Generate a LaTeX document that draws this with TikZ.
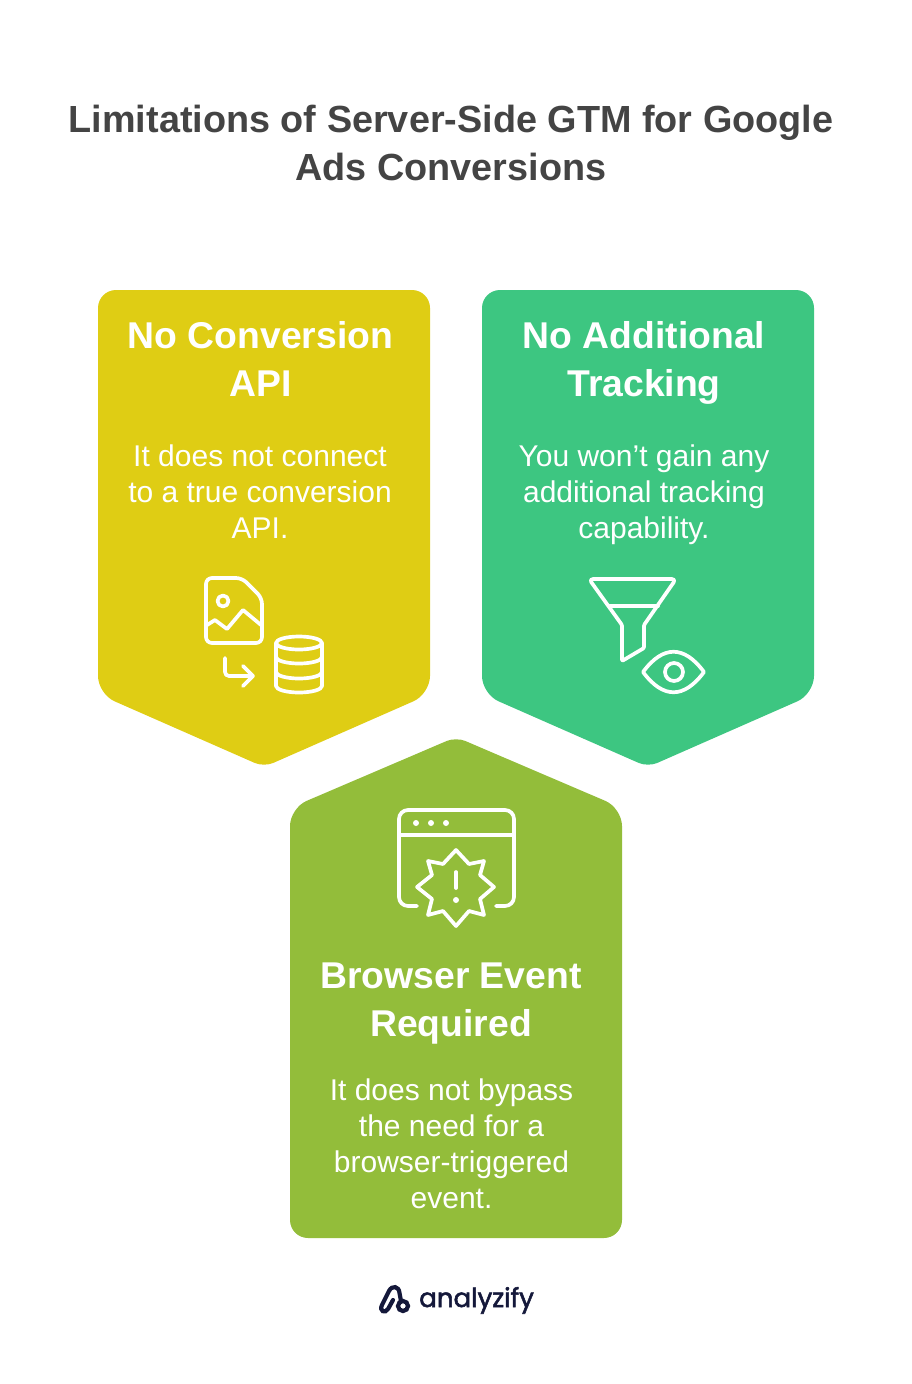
\documentclass[tikz,border=0pt]{standalone}
\usepackage{fontspec}
\setmainfont{Liberation Sans}
\newfontfamily\logofont[FakeBold=2]{Poppins}
\usetikzlibrary{positioning, arrows.meta, calc}
\definecolor{titlegray}{HTML}{444444}
\definecolor{cardyellow}{HTML}{DFCD14}
\definecolor{cardgreen}{HTML}{3DC681}
\definecolor{cardolive}{HTML}{93BD3A}
\definecolor{logonavy}{HTML}{14183A}

\begin{document}
\begin{tikzpicture}[
    x=1pt, y=-1pt,
    heading/.style={font=\fontsize{37.8}{48}\selectfont\bfseries, text=titlegray, align=center},
    cardtitle/.style={font=\fontsize{37.3}{48}\selectfont\bfseries, text=white, align=center},
    cardtext/.style={font=\fontsize{30}{36}\selectfont, text=white, align=center},
    icon/.style={draw=white, line width=3.7pt, line cap=round, line join=round},
    dot/.style={fill=white}
]
    \useasboundingbox (0, 0) rectangle (912, 1384);

    % Title
    \node[heading] (title) at (451, 143) {Limitations of Server-Side GTM for Google\\Ads Conversions};

    % === Cards ===
    \fill[cardyellow, rounded corners=18pt] (98, 290) -- (430, 290) -- (430, 694) [rounded corners=10pt] -- (264, 767) [rounded corners=18pt] -- (98, 694) -- cycle;
    \fill[cardgreen, rounded corners=18pt] (482, 290) -- (814, 290) -- (814, 694) [rounded corners=10pt] -- (648, 767) [rounded corners=18pt] -- (482, 694) -- cycle;
    \fill[cardolive, rounded corners=18pt] (290, 1238) -- (290, 808) [rounded corners=10pt] -- (456, 737) [rounded corners=18pt] -- (622, 808) -- (622, 1238) -- cycle;

    % === No Conversion API ===
    \node[cardtitle] (apititle) at (260.5, 359) {No Conversion\\API};
    \node[cardtext] (apitext) at (260, 491.7) {It does not connect\\to a true conversion\\API.};
    % Document
    \draw[icon, rounded corners=6pt] (206, 578) -- (242, 578) -- (262, 598) -- (262, 643) -- (206, 643) -- cycle;
    \draw[icon] (223, 601) circle (5.5);
    \draw[icon] (207, 625) -- (215, 620) -- (227, 629) -- (243, 610) -- (261, 625);
    % Arrow
    \draw[icon, rounded corners=4pt] (225, 658) -- (225, 676) -- (253, 676);
    \draw[icon] (243, 666) -- (253, 676) -- (243, 686);
    % Database
    \draw[icon] (299, 643) ellipse (23 and 6.5);
    \draw[icon] (276, 643) -- (276, 686) arc[start angle=180, end angle=0, x radius=23, y radius=6.5] -- (322, 643);
    \draw[icon] (276, 657) arc[start angle=180, end angle=0, x radius=23, y radius=6.5];
    \draw[icon] (276, 672) arc[start angle=180, end angle=0, x radius=23, y radius=6.5];

    % === No Additional Tracking ===
    \node[cardtitle] (trackingtitle) at (644, 363) {No Additional\\Tracking};
    \node[cardtext] (trackingtext) at (644, 494.5) {You won’t gain any\\additional tracking\\capability.};
    % Funnel
    \draw[icon, rounded corners=1pt] (622, 625) [rounded corners=4pt] -- (589, 579) -- (676, 579) [rounded corners=1pt] -- (644, 625) -- (644, 648) -- (622, 661) -- cycle;
    \draw[icon] (610, 606) -- (658, 606);
    % Eye
    \draw[icon] (643, 672) .. controls (663, 645) and (684, 645) .. (704, 672) .. controls (684, 699) and (663, 699) .. (643, 672) -- cycle;
    \draw[icon] (674, 672) circle (9);

    % === Browser Event Required ===
    \node[cardtitle] (eventtitle) at (451, 1004) {Browser Event\\Required};
    \node[cardtext] (eventtext) at (451.5, 1143.7) {It does not bypass\\the need for a\\browser-triggered\\event.};
    % Window
    \draw[icon, rounded corners=9pt] (417, 906) -- (399, 906) -- (399, 810) -- (514, 810) -- (514, 906) -- (496, 906);
    \draw[icon] (399, 835) -- (514, 835);
    \foreach \dotx in {416, 431, 446}
        \fill[dot] (\dotx, 823) circle (3);
    % Burst
    \draw[icon] (456, 850) -- (469, 864) -- (484, 861) -- (480, 875) -- (494, 887) -- (480, 899) -- (484, 915) -- (469, 911) -- (456, 926) -- (443, 911) -- (428, 915) -- (432, 899) -- (417, 887) -- (432, 875) -- (428, 861) -- (443, 864) -- cycle;
    \draw[icon] (456, 872) -- (456, 888);
    \fill[dot] (456, 900) circle (3);

    % === Logo ===
    \draw[logonavy, line width=4.2pt, line cap=round] (393, 1300) -- (388, 1309) .. controls (385, 1314) and (379, 1311) .. (382, 1305) -- (389, 1291) .. controls (392, 1285) and (399, 1286) .. (399.5, 1293) -- (401, 1301);
    \draw[logonavy, line width=4.2pt] (403, 1306) circle (5);
    \node[font=\logofont\fontsize{26.1}{27}\selectfont, text=logonavy, anchor=base west, inner sep=0pt] (logo) at (419, 1307) {analyzify};
\end{tikzpicture}
\end{document}
